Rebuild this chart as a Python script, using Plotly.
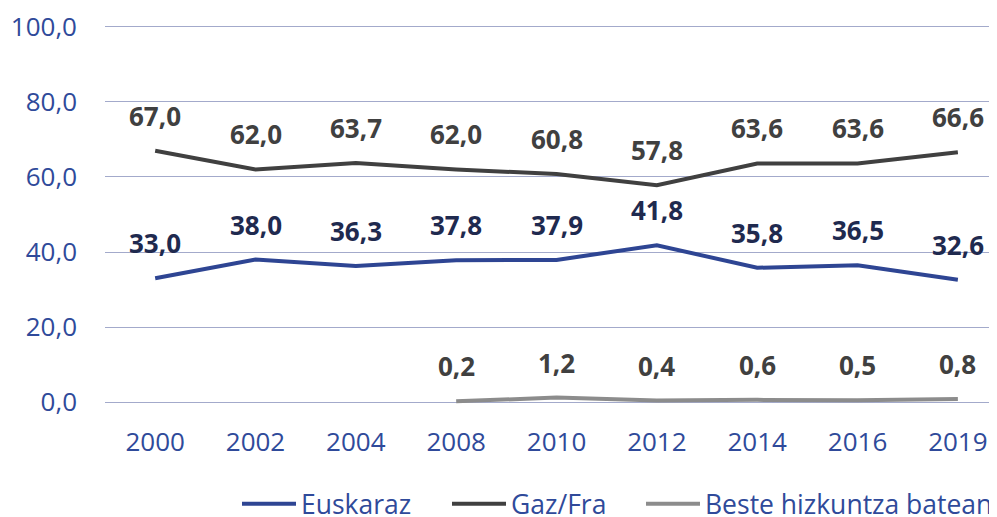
import plotly.graph_objects as go

years = ["2000", "2002", "2004", "2008", "2010", "2012", "2014", "2016", "2019"]
euskaraz = [33.0, 38.0, 36.3, 37.8, 37.9, 41.8, 35.8, 36.5, 32.6]
gazfra = [67.0, 62.0, 63.7, 62.0, 60.8, 57.8, 63.6, 63.6, 66.6]
beste = [None, None, None, 0.2, 1.2, 0.4, 0.6, 0.5, 0.8]
y_ticks = [0, 20, 40, 60, 80, 100]
y_ticktext = ["0,0", "20,0", "40,0", "60,0", "80,0", "100,0"]

FONT = "Open Sans"
BLUE = "#2F4A9A"
W, H = 989, 509  # page body margin of 8px takes the rest of the 997x517 window
series = [
    ("Euskaraz", euskaraz, "#2E4593", "#1F2A4F", "legend", 229),
    ("Gaz/Fra", gazfra, "#404040", "#404040", "legend2", 439),
    ("Beste hizkuntza batean", beste, "#8C8C8C", "#404040", "legend3", 633),
]

fig = go.Figure()
annotations = []
legends = {}
for name, vals, col, lab_col, leg, lx in series:
    fig.add_trace(go.Scatter(
        x=years, y=vals, name=name, mode="lines", legend=leg,
        line=dict(color=col, width=4), connectgaps=False, cliponaxis=False,
    ))
    for i, v in enumerate(vals):
        if v is None:
            continue
        annotations.append(dict(
            x=i, y=v, xref="x", yref="y",
            text="<b>" + f"{v:.1f}".replace(".", ",") + "</b>", showarrow=False,
            yshift=35, font=dict(family=FONT, size=26, color=lab_col),
        ))
    legends[leg] = dict(
        orientation="h", xref="container", yref="container",
        x=lx / W, xanchor="left", y=13 / H, yanchor="middle",
        font=dict(family=FONT, size=26.5, color=BLUE), itemwidth=54,
        bgcolor="rgba(0,0,0,0)",
    )

fig.update_layout(
    width=W, height=H,
    margin=dict(l=97, r=0, t=17, b=113, autoexpand=False),
    paper_bgcolor="white", plot_bgcolor="white",
    font=dict(family=FONT, size=26, color=BLUE),
    annotations=annotations,
    showlegend=True,
    xaxis=dict(type="category", range=[-0.5, 8.39], showgrid=False, zeroline=False,
               showline=False, ticks="", ticklabelstandoff=20, automargin=False,
               ticklabeloverflow="allow",
               tickfont=dict(family=FONT, size=26, color=BLUE)),
    yaxis=dict(range=[-0.5, 100.5], tickvals=y_ticks, ticktext=y_ticktext,
               showgrid=True, gridcolor="#A3AACB", gridwidth=1, zeroline=False,
               showline=False, ticks="", ticklabelstandoff=27, automargin=False,
               ticklabeloverflow="allow",
               tickfont=dict(family=FONT, size=26, color=BLUE)),
    **legends,
)

fig.write_html("out.html")
